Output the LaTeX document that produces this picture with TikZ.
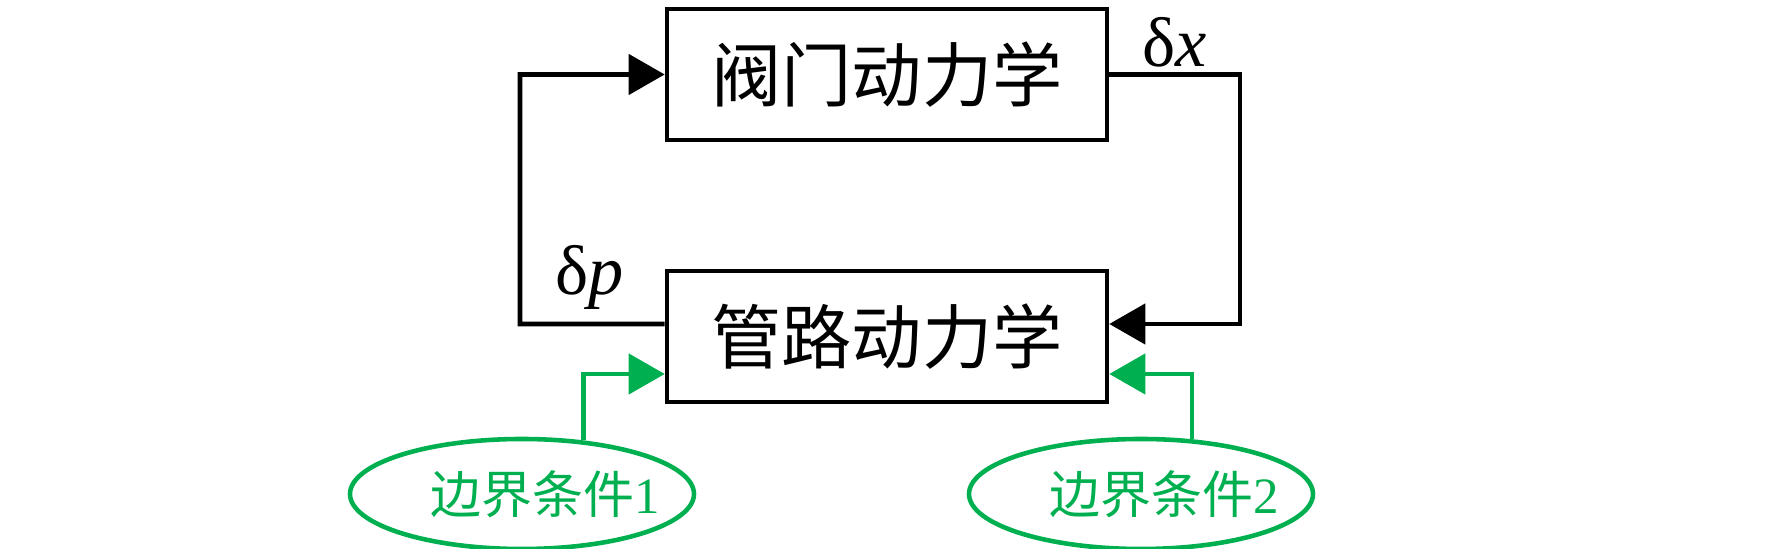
\documentclass[tikz,border=0pt]{standalone}
\usepackage{fontspec}
\setmainfont{Liberation Serif}
\newfontfamily\cjk{Noto Sans CJK SC}
\usetikzlibrary{shapes.geometric,arrows.meta}
\definecolor{bcgreen}{RGB}{0,176,80}
\tikzstyle{block} = [rectangle, draw=black, line width=1.3pt, minimum width=4.4cm, minimum height=1.31cm, inner sep=0pt, font=\cjk\fontsize{20}{24}\selectfont]
\tikzstyle{bound} = [ellipse, draw=bcgreen, text=bcgreen, line width=1.3pt, minimum width=3.44cm, minimum height=1.1cm, inner sep=0pt, font=\fontsize{14.5}{17}\selectfont]
\tikzstyle{flow} = [line width=1.3pt, -{Triangle[length=0.36cm,width=0.40cm]}]
\tikzstyle{bcflow} = [flow, draw=bcgreen, -{Triangle[length=0.36cm,width=0.40cm,fill=bcgreen]}]
\newcommand{\bctext}[1]{\makebox[0pt][c]{\hspace*{0.46cm}{\cjk 边界条件}#1}}

\begin{document}
\begin{tikzpicture}%
			\useasboundingbox (0,0) rectangle (17.72,5.49);%
			\node [block] (valve) at (8.87,4.745) {阀门动力学};%
			\node [block] (pipe) at (8.87,2.125) {管路动力学};%
			\node [bound] (bc1) at (5.22,0.55) {\bctext{1}};%
			\node [bound] (bc2) at (11.41,0.55) {\bctext{2}};%
			\coordinate (rturn) at (12.40,4.745);%
			\coordinate (lturn) at (5.20,2.25);%
			\draw [flow] (valve.east) -- (rturn) |- ([yshift=1.25mm]pipe.east);%
			\draw [flow] ([yshift=1.25mm]pipe.west) -- (lturn) |- (valve.west);%
			\draw [bcflow] (bc1.41) |- ([yshift=-3.75mm]pipe.west);%
			\draw [bcflow] (bc2.47) |- ([yshift=-3.75mm]pipe.east);%
			\node [font=\fontsize{20}{24}\selectfont] (dx) at (11.75,5.07) {δ\textit{x}};%
			\node [font=\fontsize{20}{24}\selectfont] (dp) at (5.90,2.72) {δ\textit{p}};%
		\end{tikzpicture}
\end{document}
